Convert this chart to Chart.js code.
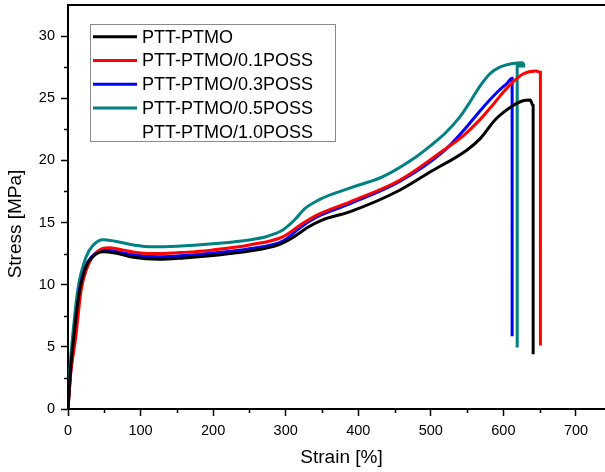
<!DOCTYPE html>
<html>
  <head>
    <meta charset="utf-8">
    <title>Stress-strain</title>
    <script src="https://cdn.jsdelivr.net/npm/chart.js"></script>
    <style>
      body { margin: 0; background: #fff; }
    </style>
  </head>
  <body>
    <div style="width:605px; height:472px; position:relative">
      <canvas id="stressChart"></canvas>
    </div>
    <script>
	// curve values: strain [%] / stress [MPa]
	var seriesLabels = ['PTT-PTMO', 'PTT-PTMO/0.1POSS', 'PTT-PTMO/0.3POSS', 'PTT-PTMO/0.5POSS', 'PTT-PTMO/1.0POSS'];
	var seriesColors = ['#000000', '#ff0000', '#0000ff', '#008080', 'rgba(0,0,0,0)'];

	var strainPTT = [0, 4, 8, 15, 25, 35, 48, 65, 90, 125, 160, 200, 250, 290, 310, 330, 350, 388, 457, 500, 549, 568, 590, 613, 627, 637, 641, 641];
	var stressPTT = [0, 3.5, 5.8, 9.2, 11.5, 12.3, 12.65, 12.55, 12.2, 12.04, 12.15, 12.35, 12.7, 13.2, 13.8, 14.6, 15.2, 15.86, 17.6, 19.1, 20.8, 21.75, 23.35, 24.4, 24.8, 24.85, 24.4, 4.4];

	var strain01 = [0, 4, 10.3, 18.2, 26, 34, 45, 55, 75, 100, 125, 160, 200, 250, 296, 320, 343, 388, 457, 517, 545, 568, 586, 600, 613, 627, 645, 651, 651];
	var stress01 = [0, 3, 5.6, 9.6, 11.3, 12.25, 12.85, 12.97, 12.8, 12.55, 12.5, 12.6, 12.8, 13.2, 13.85, 14.8, 15.6, 16.65, 18.4, 20.8, 22.0, 23.3, 24.5, 25.5, 26.3, 26.95, 27.2, 27.1, 5.1];

	var strain03 = [0, 4, 9, 16, 24, 32, 48, 65, 90, 125, 160, 200, 250, 296, 320, 343, 388, 457, 517, 545, 568, 590, 605, 612, 612];
	var stress03 = [0, 3.2, 5.6, 9.6, 11.4, 12.2, 12.8, 12.7, 12.4, 12.25, 12.35, 12.55, 12.9, 13.5, 14.6, 15.45, 16.5, 18.3, 20.7, 22.4, 24.0, 25.4, 26.2, 26.6, 5.85];

	var strain05 = [0, 3, 6, 13.5, 25, 35, 48, 65, 90, 117, 150, 200, 250, 275, 296, 312, 326, 345, 365, 400, 434, 480, 500, 520, 540, 555, 568, 582, 595, 613, 626, 630, 619, 619];
	var stress05 = [0, 3.5, 5.6, 9.6, 12.25, 13.2, 13.62, 13.5, 13.2, 13.05, 13.1, 13.3, 13.6, 13.9, 14.4, 15.2, 16.1, 16.8, 17.3, 18.0, 18.7, 20.3, 21.2, 22.2, 23.5, 24.8, 26.0, 27.0, 27.5, 27.8, 27.85, 27.6, 27.6, 4.95];

	var strain10 = [];
	var stress10 = [];

	var xTicks = [0, 100, 200, 300, 400, 500, 600, 700];
	var yTicks = [0, 5, 10, 15, 20, 25, 30];

	function toPoints(xs, ys) {
		return xs.map(function(x, i) { return { x: x, y: ys[i] }; });
	}

	var allStrain = [strainPTT, strain01, strain03, strain05, strain10];
	var allStress = [stressPTT, stress01, stress03, stress05, stress10];

	var datasets = seriesLabels.map(function(label, i) {
		return {
			label: label,
			data: toPoints(allStrain[i], allStress[i]),
			borderColor: seriesColors[i],
			backgroundColor: seriesColors[i],
			borderWidth: 3,
			pointRadius: 0,
			fill: false,
			cubicInterpolationMode: 'monotone'
		};
	});

	const FONT = 'Arial, "Liberation Sans", sans-serif';

	function noPad(s) {
		s.paddingTop = 0;
		s.paddingBottom = 0;
		s.paddingLeft = 0;
		s.paddingRight = 0;
	}

	// minor ticks, top frame line, axis titles and the boxed legend
	const extras = {
		id: 'extras',
		afterDraw: function(chart) {
			var ctx = chart.ctx;
			var area = chart.chartArea;
			var xs = chart.scales.x;
			var ys = chart.scales.y;
			ctx.save();
			ctx.strokeStyle = '#000';
			ctx.lineWidth = 1.5;
			// minor ticks
			for (var v = 50; v < xs.max; v += 100) {
				var px = Math.round(xs.getPixelForValue(v)) + 0.5;
				ctx.beginPath();
				ctx.moveTo(px, area.bottom);
				ctx.lineTo(px, area.bottom + 4);
				ctx.stroke();
			}
			for (var w = 2.5; w < ys.max; w += 5) {
				var py = Math.round(ys.getPixelForValue(w)) + 0.5;
				ctx.beginPath();
				ctx.moveTo(area.left, py);
				ctx.lineTo(area.left - 4, py);
				ctx.stroke();
			}
			// top frame
			ctx.lineWidth = 2;
			ctx.beginPath();
			ctx.moveTo(area.left, area.top);
			ctx.lineTo(area.right, area.top);
			ctx.stroke();

			// axis titles
			ctx.fillStyle = '#000';
			ctx.font = '19px ' + FONT;
			ctx.textAlign = 'center';
			ctx.textBaseline = 'middle';
			ctx.fillText('Strain [%]', (area.left + area.right) / 2 + 5, area.bottom + 49);
			ctx.save();
			ctx.translate(16, 224);
			ctx.rotate(-Math.PI / 2);
			ctx.fillText('Stress [MPa]', 0, 0);
			ctx.restore();

			// legend
			ctx.fillStyle = '#fff';
			ctx.fillRect(90.5, 24.5, 245, 117);
			ctx.strokeStyle = '#8a8a8a';
			ctx.lineWidth = 1;
			ctx.strokeRect(90.5, 24.5, 245, 117);
			ctx.font = '18px ' + FONT;
			ctx.textAlign = 'left';
			chart.data.datasets.forEach(function(ds, i) {
				var cy = 36.7 + i * 23.75;
				ctx.strokeStyle = ds.borderColor;
				ctx.lineWidth = 3;
				ctx.beginPath();
				ctx.moveTo(93, cy);
				ctx.lineTo(137, cy);
				ctx.stroke();
				ctx.fillStyle = '#000';
				ctx.fillText(ds.label, 142, cy + 1);
			});
			ctx.restore();
		}
	};

	const config = {
		type: 'line',
		data: { datasets: datasets },
		options: {
			responsive: true,
			maintainAspectRatio: false,
			animation: false,
			devicePixelRatio: 1,
			layout: { padding: { top: 5, right: 0, left: 0, bottom: 0 } },
			plugins: {
				legend: { display: false },
				tooltip: { enabled: false }
			},
			scales: {
				x: {
					type: 'linear',
					min: 0,
					max: 740,
					afterFit: function(s) { s.height = 63; noPad(s); },
					afterBuildTicks: function(s) { s.ticks = xTicks.map(function(v) { return { value: v }; }); },
					ticks: {
						color: '#000',
						font: { family: FONT, size: 14.5 },
						padding: 6,
						maxRotation: 0,
						autoSkip: false
					},
					grid: {
						drawOnChartArea: false,
						drawTicks: true,
						tickLength: 7,
						tickColor: '#000',
						tickWidth: 1.5
					},
					border: { display: true, color: '#000', width: 2 }
				},
				y: {
					type: 'linear',
					min: 0,
					max: 32.5,
					afterFit: function(s) { s.width = 68; noPad(s); },
					afterBuildTicks: function(s) { s.ticks = yTicks.map(function(v) { return { value: v }; }); },
					ticks: {
						color: '#000',
						font: { family: FONT, size: 14.5 },
						padding: 6
					},
					grid: {
						drawOnChartArea: false,
						drawTicks: true,
						tickLength: 7,
						tickColor: '#000',
						tickWidth: 1.5
					},
					border: { display: true, color: '#000', width: 2 }
				}
			}
		},
		plugins: [extras]
	};

	const StressChart = new Chart(document.getElementById('stressChart'), config);
    </script>
  </body>
</html>
